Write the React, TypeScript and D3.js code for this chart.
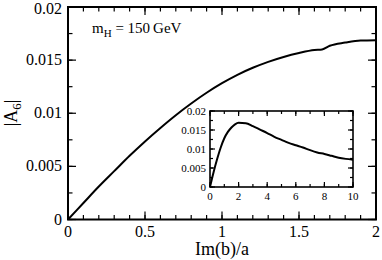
import React, { useEffect, useRef } from 'react';
import * as d3 from 'd3';

// main panel: |A6| vs Im(b)/a
const mainX = [0, 0.1, 0.2, 0.3, 0.4, 0.5, 0.6, 0.7, 0.8, 0.9, 1.0, 1.1, 1.2, 1.3, 1.4, 1.5, 1.6, 1.65, 1.7, 1.8, 1.9, 2.0];
const mainY = [0, 0.00155, 0.0031, 0.00455, 0.006, 0.00735, 0.00862, 0.00982, 0.01092, 0.01193, 0.01283, 0.01362, 0.01428, 0.01484, 0.0153, 0.01567, 0.01595, 0.016, 0.01635, 0.01665, 0.01685, 0.01688];

// inset: wider range
const insetX = [0, 0.25, 0.5, 0.75, 1, 1.25, 1.5, 1.75, 2, 2.5, 3, 3.5, 4, 4.5, 5, 5.5, 6, 6.5, 7, 7.5, 8, 8.5, 9, 9.5, 10];
const insetY = [0, 0.0039, 0.00735, 0.0104, 0.01283, 0.0145, 0.01567, 0.0165, 0.0169, 0.0168, 0.016, 0.0151, 0.0142, 0.0132, 0.0124, 0.0116, 0.011, 0.0104, 0.0097, 0.0091, 0.0087, 0.0082, 0.0077, 0.0074, 0.0072];

const mainYTicks = ['0', '0.005', '0.01', '0.015', '0.02'];
const mainXTicks = ['0', '0.5', '1', '1.5', '2'];
const insetXTicks = ['0', '2', '4', '6', '8', '10'];

const FONT = '"Liberation Serif", "Times New Roman", serif';

const App: React.FC = () => {
  const svgRef = useRef<SVGSVGElement | null>(null);

  useEffect(() => {
    const svg = d3.select(svgRef.current);
    svg.selectAll('*').remove();

    const drawPanel = (
      g: d3.Selection<SVGGElement, unknown, null, undefined>,
      x: d3.ScaleLinear<number, number>,
      y: d3.ScaleLinear<number, number>,
      xMajor: number[], xMinor: number[], yMajor: number[], yMinor: number[],
      majLen: number, minLen: number, frameW: number
    ) => {
      const [x0, x1] = x.range();
      const [y0, y1] = y.range();
      g.append('rect')
        .attr('x', x0).attr('y', y1)
        .attr('width', x1 - x0).attr('height', y0 - y1)
        .attr('fill', 'white').attr('stroke', 'black').attr('stroke-width', frameW);
      const tick = (list: number[], len: number, horiz: boolean) => {
        list.forEach((v) => {
          if (horiz) {
            const px = x(v);
            g.append('line').attr('x1', px).attr('x2', px).attr('y1', y0).attr('y2', y0 - len)
              .attr('stroke', 'black').attr('stroke-width', 1.2);
            g.append('line').attr('x1', px).attr('x2', px).attr('y1', y1).attr('y2', y1 + len)
              .attr('stroke', 'black').attr('stroke-width', 1.2);
          } else {
            const py = y(v);
            g.append('line').attr('x1', x0).attr('x2', x0 + len).attr('y1', py).attr('y2', py)
              .attr('stroke', 'black').attr('stroke-width', 1.2);
            g.append('line').attr('x1', x1).attr('x2', x1 - len).attr('y1', py).attr('y2', py)
              .attr('stroke', 'black').attr('stroke-width', 1.2);
          }
        });
      };
      tick(xMajor, majLen, true);
      tick(xMinor, minLen, true);
      tick(yMajor, majLen, false);
      tick(yMinor, minLen, false);
    };

    // main panel
    const x = d3.scaleLinear().domain([0, 2]).range([68, 376]);
    const y = d3.scaleLinear().domain([0, 0.02]).range([219.5, 7]);
    const main = svg.append('g');
    drawPanel(main, x, y,
      d3.range(0, 2.01, 0.5), d3.range(0, 2.01, 0.1),
      d3.range(0, 0.0201, 0.005), d3.range(0, 0.0201, 0.0025),
      8, 4.5, 2);

    const line = d3.line<number>().x((d, i) => x(mainX[i])).y((d) => y(d)).curve(d3.curveMonotoneX);
    main.append('path').datum(mainY).attr('d', line)
      .attr('fill', 'none').attr('stroke', 'black').attr('stroke-width', 2);

    main.selectAll('.ylab').data(mainYTicks).enter().append('text')
      .attr('x', 62).attr('y', (d) => Math.max(y(+d) + 5, 14))
      .attr('text-anchor', 'end').attr('font-family', FONT).attr('font-size', 16)
      .text((d) => d);
    main.selectAll('.xlab').data(mainXTicks).enter().append('text')
      .attr('x', (d) => x(+d)).attr('y', 237)
      .attr('text-anchor', 'middle').attr('font-family', FONT).attr('font-size', 16)
      .text((d) => d);

    main.append('text').attr('x', 222).attr('y', 255)
      .attr('text-anchor', 'middle').attr('font-family', FONT).attr('font-size', 18)
      .text('Im(b)/a');

    const yl = main.append('text')
      .attr('transform', 'translate(17,113) rotate(-90)')
      .attr('text-anchor', 'middle').attr('font-family', FONT).attr('font-size', 18);
    yl.append('tspan').text('|A');
    yl.append('tspan').attr('font-size', 13).attr('dy', 4).text('6');
    yl.append('tspan').attr('dy', -4).text('|');

    const ann = main.append('text').attr('x', 92).attr('y', 33)
      .attr('font-family', FONT).attr('font-size', 15);
    ann.append('tspan').text('m');
    ann.append('tspan').attr('font-size', 11).attr('dy', 4).text('H');
    ann.append('tspan').attr('dy', -4).text(' = 150\u2009GeV');

    // inset
    const ix = d3.scaleLinear().domain([0, 10]).range([210, 353]);
    const iy = d3.scaleLinear().domain([0, 0.02]).range([187, 111]);
    const inset = svg.append('g');
    drawPanel(inset, ix, iy,
      d3.range(0, 10.01, 2), d3.range(0, 10.01, 1),
      d3.range(0, 0.0201, 0.005), d3.range(0, 0.0201, 0.0025),
      5, 3, 1.6);

    const iline = d3.line<number>().x((d, i) => ix(insetX[i])).y((d) => iy(d)).curve(d3.curveMonotoneX);
    inset.append('path').datum(insetY).attr('d', iline)
      .attr('fill', 'none').attr('stroke', 'black').attr('stroke-width', 2);

    inset.selectAll('.iylab').data(mainYTicks).enter().append('text')
      .attr('x', 206).attr('y', (d) => iy(+d) + 4)
      .attr('text-anchor', 'end').attr('font-family', FONT).attr('font-size', 11)
      .text((d) => d);
    inset.selectAll('.ixlab').data(insetXTicks).enter().append('text')
      .attr('x', (d) => ix(+d)).attr('y', 200)
      .attr('text-anchor', 'middle').attr('font-family', FONT).attr('font-size', 11)
      .text((d) => d);
  }, []);

  return (
    <svg ref={svgRef} width={382} height={260}
      style={{ position: 'absolute', left: 0, top: 0, background: 'white' }} />
  );
};

export default App;
